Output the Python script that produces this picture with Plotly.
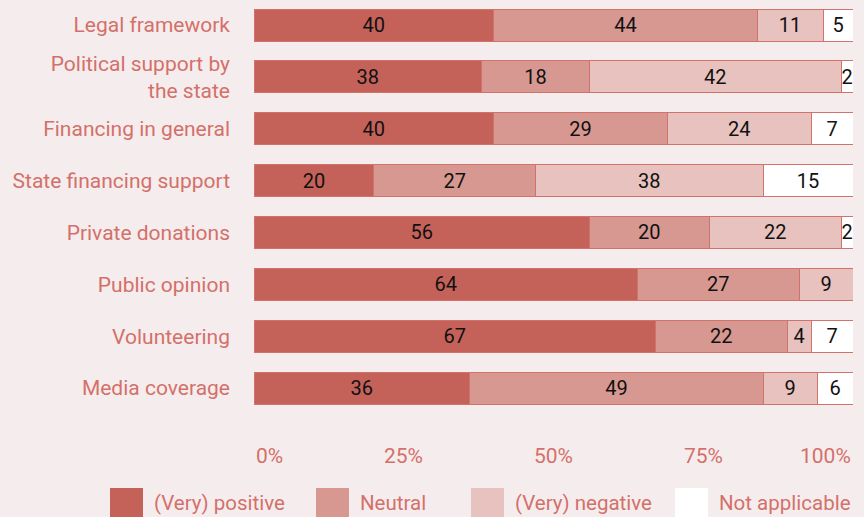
import plotly.graph_objects as go

categories = ["Legal framework", "Political support by<br>the state", "Financing in general",
              "State financing support", "Private donations", "Public opinion",
              "Volunteering", "Media coverage"]
positive = [40, 38, 40, 20, 56, 64, 67, 36]
neutral = [44, 18, 29, 27, 20, 27, 22, 49]
negative = [11, 42, 24, 38, 22, 9, 4, 9]
not_applicable = [5, 2, 7, 15, 2, 0, 7, 6]
series_names = ["(Very) positive", "Neutral", "(Very) negative", "Not applicable"]
tick_values = [0, 25, 50, 75, 100]
tick_labels = ["0%", "25%", "50%", "75%", "100%"]

colors = ["#c4625a", "#d89892", "#e8c2be", "#ffffff"]
bg = "#f5eded"
red_text = "#d4706a"
font_family = "Roboto"

W, H = 864, 517
L, R, T, B = 254, 11, 0, 92
PW, PH = W - L - R, H - T - B


def px_x(px):
    return (px - L) / PW


def px_y(py):
    return (H - B - py) / PH


fig = go.Figure()
for name, vals, col in zip(series_names, [positive, neutral, negative, not_applicable], colors):
    fig.add_trace(go.Bar(
        y=categories, x=vals, name=name, orientation="h",
        marker=dict(color=col, line=dict(color="#d2726a", width=1)),
        text=[str(v) if v > 0 else "" for v in vals],
        textposition="inside", insidetextanchor="middle", textangle=0,
        textfont=dict(color="#111111", size=20, family=font_family),
        hoverinfo="skip", showlegend=False,
    ))

annotations = []
for v, t in zip(tick_values, tick_labels):
    anchor = "left" if v == 0 else ("right" if v == 100 else "center")
    annotations.append(dict(x=v, xref="x", y=0, yref="paper", yanchor="top", yshift=-17,
                            xanchor=anchor, text=t, showarrow=False,
                            font=dict(color=red_text, size=21, family=font_family)))

# custom legend (large swatches)
legend_swatch_px = [110, 316, 471, 675]
shapes = []
for name, col, sx in zip(series_names, colors, legend_swatch_px):
    shapes.append(dict(type="rect", xref="paper", yref="paper",
                       x0=px_x(sx), x1=px_x(sx + 33), y0=px_y(520), y1=px_y(488),
                       fillcolor=col, line=dict(width=0), layer="above"))
    annotations.append(dict(x=px_x(sx + 42), xref="paper", y=px_y(503), yref="paper",
                            xanchor="left", yanchor="middle", text=name, showarrow=False,
                            font=dict(color=red_text, size=20.5, family=font_family)))

fig.update_layout(
    barmode="stack", bargap=0.383,
    width=W, height=H,
    margin=dict(l=L, r=R, t=T, b=B, pad=0),
    paper_bgcolor=bg, plot_bgcolor=bg,
    font=dict(family=font_family, color=red_text, size=21),
    uniformtext=dict(minsize=20, mode="show"),
    xaxis=dict(range=[0, 100], showgrid=False, zeroline=False, showticklabels=False,
               showline=False, fixedrange=True),
    yaxis=dict(categoryorder="array", categoryarray=categories, range=[7.713, -0.482],
               showgrid=False, zeroline=False, ticklabelstandoff=23,
               tickfont=dict(color=red_text, size=21, family=font_family)),
    annotations=annotations,
    shapes=shapes,
    showlegend=False,
)

fig.write_html("out.html", config={"displayModeBar": False},
               post_script="document.body.style.margin='0';document.body.style.overflow='hidden';document.body.style.background='#f5eded';")
